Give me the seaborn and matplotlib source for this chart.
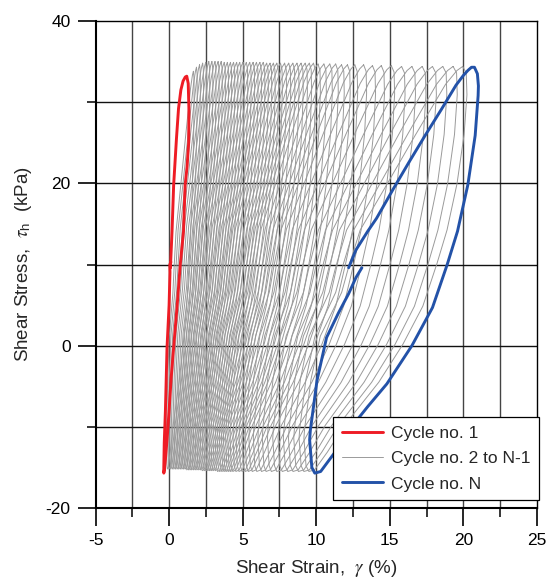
import numpy as np
import pandas as pd
import matplotlib
matplotlib.use("Agg")
import matplotlib.pyplot as plt
from matplotlib.lines import Line2D
import seaborn as sns

# ---------------- data ----------------
# Cycle no. 1 (red) - strain (%) and stress (kPa), traced in drawing order
cycle1_strain = [0.09, 0.20, 0.31, 0.50, 0.64, 0.80, 0.95, 1.10, 1.20, 1.30, 1.35, 1.33, 1.22, 1.09, 0.98, 0.76,
                 0.55, 0.31, 0.14, 0.00, -0.14, -0.25, -0.32, -0.36, -0.36, -0.33, -0.25, -0.14, 0.00, 0.06, 0.05, 0.12]
cycle1_stress = [9.6, 14.1, 19.8, 25.5, 29.2, 31.5, 32.6, 33.1, 33.2, 32.3, 29.0, 25.0, 22.0, 19.8, 14.1, 10.0,
                 5.0, -0.2, -4.0, -8.0, -11.6, -14.0, -15.3, -15.7, -15.0, -12.0, -8.0, -0.2, 5.0, 9.0, 10.0, 10.3]

# Cycle no. N (blue)
cycleN_strain = [12.2, 12.7, 13.5, 14.1, 15.2, 16.3, 17.4, 18.5, 19.5, 20.0, 20.3, 20.55, 20.75, 20.95, 21.02, 21.0,
                 20.8, 20.3, 19.6, 18.9, 17.9, 16.5, 14.8, 13.5, 12.4, 11.2, 10.3, 9.9, 9.7, 9.55, 9.6,
                 10.05, 10.7, 11.5, 12.2, 12.7, 13.1]
cycleN_stress = [9.6, 11.8, 14.1, 15.7, 19.2, 22.6, 25.9, 29.1, 32.1, 33.3, 33.9, 34.3, 34.3, 33.5, 32.0, 30.8,
                 25.9, 19.8, 14.1, 10.0, 4.7, 0.0, -4.7, -7.5, -10.0, -13.3, -15.5, -15.7, -15.0, -11.6, -10.4,
                 -4.3, 1.0, 4.0, 6.4, 8.4, 9.6]

# Cycles no. 2 to N-1 (gray): strain at peak stress and at minimum stress, and the peak/min stresses
gray_top_strain = [1.65, 1.86, 2.07, 2.28, 2.49, 2.70, 2.91, 3.12, 3.33, 3.54, 3.75, 3.96, 4.17, 4.38, 4.59, 4.80,
                   5.02, 5.25, 5.48, 5.71, 5.94, 6.17, 6.40, 6.63, 6.86, 7.09, 7.32, 7.57, 7.85, 8.13, 8.41, 8.69,
                   8.97, 9.25, 9.53, 9.81, 10.12, 10.52, 10.92, 11.32, 11.72, 12.12, 12.62, 13.22, 13.82, 14.42,
                   15.1, 15.8, 16.5, 17.2, 17.9, 18.6, 19.3, 19.95]
gray_bottom_strain = [-0.12, -0.01, 0.10, 0.21, 0.32, 0.43, 0.54, 0.65, 0.76, 0.87, 0.98, 1.09, 1.20, 1.31, 1.42, 1.53,
                      1.65, 1.77, 1.89, 2.01, 2.13, 2.25, 2.38, 2.50, 2.62, 2.74, 2.86, 2.99, 3.14, 3.29, 3.43, 3.58,
                      3.73, 3.87, 4.02, 4.17, 4.33, 4.54, 4.75, 4.96, 5.17, 5.38, 5.65, 5.96, 6.28, 6.59,
                      6.95, 7.32, 7.69, 8.06, 8.42, 8.79, 9.16, 9.50]
gray_top_stress = [33.8, 34.3, 34.6, 34.8, 34.9, 35.0, 35.0, 35.0, 35.0, 35.0, 34.9, 34.9, 34.9, 34.9, 34.9, 34.9,
                   34.9, 34.9, 34.9, 34.9, 34.9, 34.9, 34.9, 34.8, 34.8, 34.8, 34.8, 34.8, 34.8, 34.8, 34.8, 34.8,
                   34.8, 34.8, 34.8, 34.8, 34.7, 34.7, 34.7, 34.7, 34.6, 34.6, 34.6, 34.6, 34.5, 34.5,
                   34.5, 34.4, 34.4, 34.4, 34.4, 34.4, 34.4, 34.4]
gray_bottom_stress = [-15.2, -15.2, -15.2, -15.2, -15.2, -15.2, -15.2, -15.2, -15.2, -15.2, -15.2, -15.2, -15.3, -15.3,
                      -15.3, -15.3, -15.3, -15.3, -15.3, -15.3, -15.3, -15.4, -15.4, -15.4, -15.4, -15.4, -15.4, -15.4,
                      -15.4, -15.5, -15.5, -15.5, -15.5, -15.5, -15.5, -15.5, -15.5, -15.5, -15.5, -15.5, -15.5, -15.5,
                      -15.5, -15.5, -15.5, -15.5, -15.5, -15.5, -15.5, -15.5, -15.5, -15.5, -15.5, -15.5]

# loop shape read from the final cycle (unloading then reloading), used for cycles 2..N-1
shape_strain = [20.7, 20.95, 21.0, 20.8, 20.3, 19.6, 18.9, 17.9, 16.5, 14.8, 12.4, 11.2, 10.3, 9.9,
                9.7, 9.55, 9.6, 10.05, 10.7, 12.2, 12.7, 13.5, 15.2, 17.4, 19.5, 20.3, 20.7]
shape_stress = [34.3, 33.5, 30.8, 25.9, 19.8, 14.1, 10.0, 4.7, 0.0, -4.7, -10.0, -13.3, -15.5, -15.7,
                -15.0, -11.6, -10.4, -4.3, 1.0, 6.4, 9.6, 14.1, 19.2, 25.9, 32.1, 33.8, 34.3]

legend_labels = ["Cycle no. 1", "Cycle no. 2 to N-1", "Cycle no. N"]

# ---------------- build tables ----------------
sx = np.array(shape_strain)
sy = np.array(shape_stress)
u = (sx - 9.9) / (20.7 - 9.9)
v = (sy - (-15.7)) / (34.3 - (-15.7))

rows = []
for i in range(len(gray_top_strain)):
    b, t = gray_bottom_strain[i], gray_top_strain[i]
    yb, yt = gray_bottom_stress[i], gray_top_stress[i]
    for k in range(len(u)):
        rows.append((i, k, b + u[k] * (t - b), yb + v[k] * (yt - yb)))
gray_df = pd.DataFrame(rows, columns=["cycle", "order", "strain", "stress"])
c1_df = pd.DataFrame({"strain": cycle1_strain, "stress": cycle1_stress})
cN_df = pd.DataFrame({"strain": cycleN_strain, "stress": cycleN_stress})

# ---------------- plot ----------------
sns.set_theme(style="ticks")
plt.rcParams["font.family"] = ["Liberation Sans", "DejaVu Sans"]
plt.rcParams["mathtext.fontset"] = "stix"
plt.rcParams["axes.unicode_minus"] = False

fig = plt.figure(figsize=(5.48, 5.8), dpi=100)
ax = fig.add_axes([0.1743, 0.1241, 0.8056, 0.8397])

red = "#ee1c25"
blue = "#2352a8"
gray = "#9a9a9a"

sns.lineplot(data=gray_df, x="strain", y="stress", units="cycle", estimator=None, sort=False,
             color=gray, lw=0.7, ax=ax, zorder=2)
sns.lineplot(data=c1_df, x="strain", y="stress", estimator=None, sort=False,
             color=red, lw=2.1, ax=ax, zorder=3)
sns.lineplot(data=cN_df, x="strain", y="stress", estimator=None, sort=False,
             color=blue, lw=2.1, ax=ax, zorder=3)

ax.set_xlim(-5, 25)
ax.set_ylim(-20, 40)
ax.set_xticks(np.arange(-5, 26, 5))
ax.set_xticks(np.arange(-2.5, 25, 5), minor=True)
ax.set_yticks([-20, 0, 20, 40])
ax.set_yticks([-10, 10, 30], minor=True)

for xv in np.arange(-2.5, 25, 2.5):
    ax.axvline(xv, color="#444444", lw=1.0, zorder=1)
for yv in [-10, 0, 10, 20, 30]:
    ax.axhline(yv, color="#111111", lw=1.0, zorder=1)

ax.tick_params(axis="both", which="major", length=13, width=1.2, direction="out",
               labelsize=12.5, colors="black", pad=5)
ax.tick_params(axis="both", which="minor", length=6.5, width=1.1, direction="out", colors="black")

for side in ["left", "bottom"]:
    ax.spines[side].set_linewidth(1.5)
    ax.spines[side].set_color("black")
for side in ["top", "right"]:
    ax.spines[side].set_linewidth(1.0)
    ax.spines[side].set_color("black")

ax.set_xlabel(r"Shear Strain,  $\gamma$ (%)", fontsize=13.5, labelpad=7)
ax.set_ylabel(r"Shear Stress,  $\tau_{\mathregular{h}}$  (kPa)", fontsize=13.5, labelpad=8)

handles = [Line2D([], [], color=red, lw=2.1),
           Line2D([], [], color=gray, lw=0.7),
           Line2D([], [], color=blue, lw=2.1)]
leg = ax.legend(handles, legend_labels, loc="lower right", bbox_to_anchor=(1.005, 0.016),
                fontsize=12.5, frameon=True, fancybox=False, framealpha=1, edgecolor="black",
                handlelength=2.4, borderpad=0.5, labelspacing=0.58, handletextpad=0.45,
                borderaxespad=0.0)
leg.get_frame().set_linewidth(0.9)
leg.set_zorder(5)

fig.savefig("out.png", dpi=100)
